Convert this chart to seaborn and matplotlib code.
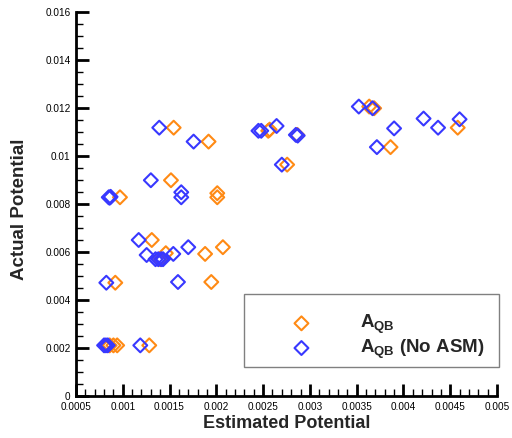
import numpy as np
import pandas as pd
import matplotlib
matplotlib.use("Agg")
import matplotlib.pyplot as plt
from matplotlib.patches import Rectangle
from matplotlib.ticker import FixedLocator, MultipleLocator, FixedFormatter
import seaborn as sns

# A_QB series
qb_est = [0.00097, 0.001544, 0.001917, 0.001515, 0.00201, 0.00201, 0.00131, 0.00140,
          0.00146, 0.00188, 0.00207, 0.00092, 0.001946, 0.00086, 0.00090, 0.00094,
          0.001283, 0.002555, 0.00257, 0.002757, 0.002865, 0.003634, 0.003687,
          0.003862, 0.00458]
qb_act = [0.00828, 0.01118, 0.0106, 0.00899, 0.00845, 0.00828, 0.0065, 0.0057,
          0.00595, 0.00592, 0.0062, 0.00472, 0.00475, 0.00211, 0.00211, 0.00211,
          0.00211, 0.01105, 0.0111, 0.00964, 0.01088, 0.01206, 0.01199,
          0.01037, 0.01118]

# A_QB without ASM
noasm_est = [0.00085, 0.00087, 0.00086, 0.00139, 0.001757, 0.0013, 0.001625, 0.001625,
             0.00117, 0.001255, 0.00135, 0.00138, 0.00141, 0.00143, 0.00154, 0.0017,
             0.000824, 0.00159, 0.00080, 0.00082, 0.00084, 0.001187, 0.00245, 0.00248,
             0.002644, 0.00285, 0.00287, 0.0027, 0.003523, 0.00367, 0.0039, 0.003716,
             0.004215, 0.00437, 0.0046]
noasm_act = [0.00828, 0.0083, 0.00826, 0.01118, 0.0106, 0.00899, 0.00849, 0.00828,
             0.0065, 0.005875, 0.0057, 0.0057, 0.0057, 0.0057, 0.00592, 0.0062,
             0.00472, 0.00475, 0.00211, 0.00211, 0.00211, 0.00211, 0.01105, 0.01105,
             0.01125, 0.01088, 0.01085, 0.00964, 0.01206, 0.01199, 0.01115, 0.01037,
             0.01156, 0.01118, 0.01153]

series_labels = [r"$\mathbf{A_{QB}}$", r"$\mathbf{A_{QB}}$ (No ASM)"]
series_colors = ["#FF8A14", "#3838FF"]

x_ticks = [0.0005, 0.001, 0.0015, 0.002, 0.0025, 0.003, 0.0035, 0.004, 0.0045, 0.005]
x_tick_labels = ["0.0005", "0.001", "0.0015", "0.002", "0.0025", "0.003",
                 "0.0035", "0.004", "0.0045", "0.005"]
y_ticks = [0, 0.002, 0.004, 0.006, 0.008, 0.01, 0.012, 0.014, 0.016]
y_tick_labels = ["0", "0.002", "0.004", "0.006", "0.008", "0.01", "0.012", "0.014", "0.016"]

sns.set_style("white")
plt.rcParams["font.family"] = ["Liberation Sans", "DejaVu Sans"]
plt.rcParams["mathtext.fontset"] = "custom"
plt.rcParams["mathtext.rm"] = "Liberation Sans"
plt.rcParams["mathtext.bf"] = "Liberation Sans:bold"

fig = plt.figure(figsize=(5.12, 4.38), dpi=100)
ax = fig.add_axes([76 / 512, 42 / 438, 421 / 512, 384 / 438])

df = pd.concat([
    pd.DataFrame({"est": qb_est, "act": qb_act, "series": series_labels[0]}),
    pd.DataFrame({"est": noasm_est, "act": noasm_act, "series": series_labels[1]}),
])

# hollow diamonds, one call per series
for lab, col in zip(series_labels, series_colors):
    sub = df[df["series"] == lab]
    sns.scatterplot(data=sub, x="est", y="act", ax=ax, marker="D", s=50,
                    color=col, facecolor="none", edgecolor=col, linewidth=1.5,
                    label=lab, legend=False)

ax.set_xlim(0.0005, 0.005)
ax.set_ylim(0, 0.016)

ax.xaxis.set_major_locator(FixedLocator(x_ticks))
ax.xaxis.set_major_formatter(FixedFormatter(x_tick_labels))
ax.xaxis.set_minor_locator(MultipleLocator(0.0001))
ax.yaxis.set_major_locator(FixedLocator(y_ticks))
ax.yaxis.set_major_formatter(FixedFormatter(y_tick_labels))
ax.yaxis.set_minor_locator(MultipleLocator(0.0005))

for side in ["top", "right"]:
    ax.spines[side].set_visible(False)
for side in ["left", "bottom"]:
    ax.spines[side].set_linewidth(2)
    ax.spines[side].set_color("black")

ax.tick_params(which="major", direction="in", length=9, width=2, labelsize=7.2,
               color="black", labelcolor="black", pad=4)
ax.tick_params(which="minor", direction="in", length=5, width=1, color="black")
ax.tick_params(axis="x", which="both", bottom=True, top=False)
ax.tick_params(axis="y", which="both", left=True, right=False)

ax.set_xlabel("Estimated Potential", fontsize=13, fontweight="bold")
ax.set_ylabel("Actual Potential", fontsize=13.5, fontweight="bold")
ax.xaxis.set_label_coords(286.5 / 512, 15 / 438, transform=fig.transFigure)
ax.yaxis.set_label_coords(20 / 512, 229 / 438, transform=fig.transFigure)
ax.xaxis.label.set_va("center")
ax.yaxis.label.set_va("center")

# legend box
fig.add_artist(Rectangle((244 / 512, (438 - 367) / 438), 255 / 512, 73 / 438,
                         transform=fig.transFigure, fill=False,
                         edgecolor="#808080", linewidth=1))

handles = ax.collections[:2]
leg = ax.legend(handles, series_labels, loc="center left",
                bbox_to_anchor=(282.7 / 512, (438 - 337) / 438),
                bbox_transform=fig.transFigure, frameon=False,
                borderpad=0, borderaxespad=0, handlelength=2,
                handletextpad=2.1, labelspacing=0.08,
                prop={"size": 13.5, "weight": "bold"})

fig.savefig("out.png", dpi=100)
